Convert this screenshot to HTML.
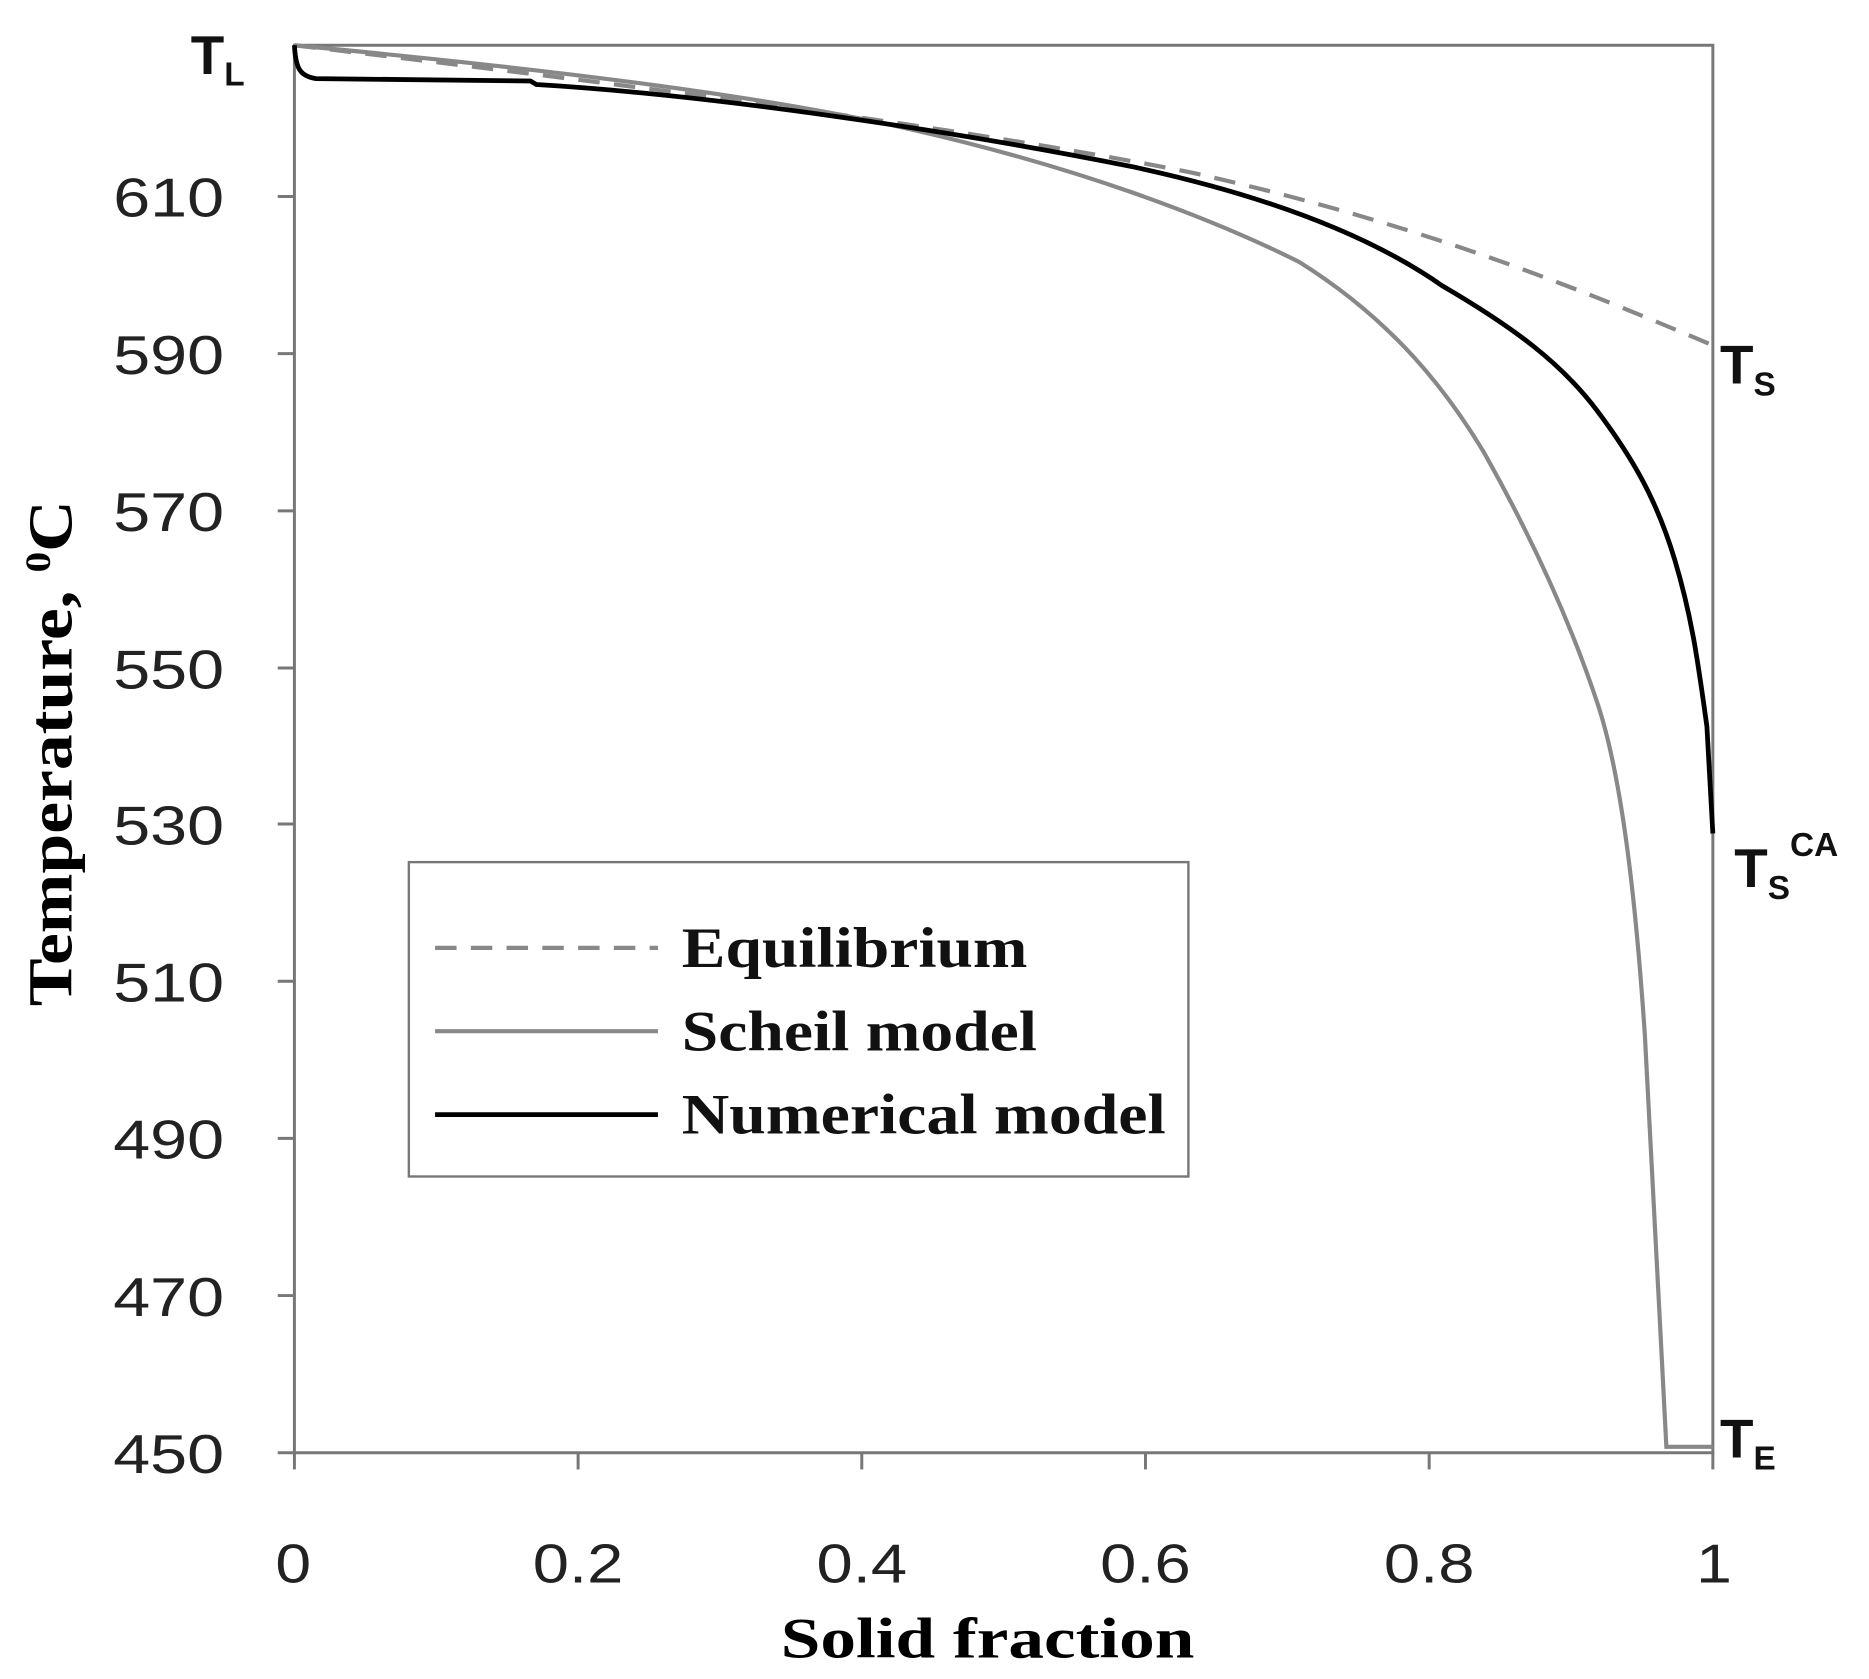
<!DOCTYPE html>
<html><head><meta charset="utf-8"><style>
html,body{margin:0;padding:0;background:#fff;}
svg{display:block;}
</style></head><body>
<svg width="1869" height="1679" viewBox="0 0 1568 1410" preserveAspectRatio="none" xmlns="http://www.w3.org/2000/svg">
<rect x="0" y="0" width="1568" height="1410" fill="#fff"/>
<rect x="247" y="38" width="1190" height="1182" fill="none" stroke="#777" stroke-width="2.5"/>
<g stroke="#777" stroke-width="2.5">
<line x1="247" y1="1220" x2="247" y2="1234"/><line x1="485" y1="1220" x2="485" y2="1234"/>
<line x1="723" y1="1220" x2="723" y2="1234"/><line x1="961" y1="1220" x2="961" y2="1234"/>
<line x1="1199" y1="1220" x2="1199" y2="1234"/><line x1="1437" y1="1220" x2="1437" y2="1234"/>
<line x1="233" y1="165" x2="247" y2="165"/><line x1="233" y1="297" x2="247" y2="297"/>
<line x1="233" y1="429" x2="247" y2="429"/><line x1="233" y1="561" x2="247" y2="561"/>
<line x1="233" y1="692" x2="247" y2="692"/><line x1="233" y1="824" x2="247" y2="824"/>
<line x1="233" y1="956" x2="247" y2="956"/><line x1="233" y1="1088" x2="247" y2="1088"/>
<line x1="233" y1="1220" x2="247" y2="1220"/>
</g>
<g font-family="Liberation Sans, sans-serif" font-size="46" fill="#222" lengthAdjust="spacingAndGlyphs">
<text x="95" y="182" textLength="93" lengthAdjust="spacingAndGlyphs">610</text>
<text x="95" y="314" textLength="93" lengthAdjust="spacingAndGlyphs">590</text>
<text x="95" y="446" textLength="93" lengthAdjust="spacingAndGlyphs">570</text>
<text x="95" y="578" textLength="93" lengthAdjust="spacingAndGlyphs">550</text>
<text x="95" y="709" textLength="93" lengthAdjust="spacingAndGlyphs">530</text>
<text x="95" y="841" textLength="93" lengthAdjust="spacingAndGlyphs">510</text>
<text x="95" y="973" textLength="93" lengthAdjust="spacingAndGlyphs">490</text>
<text x="95" y="1105" textLength="93" lengthAdjust="spacingAndGlyphs">470</text>
<text x="95" y="1237" textLength="93" lengthAdjust="spacingAndGlyphs">450</text>
<text x="231" y="1329" textLength="30" lengthAdjust="spacingAndGlyphs">0</text>
<text x="447" y="1329" textLength="76" lengthAdjust="spacingAndGlyphs">0.2</text>
<text x="685" y="1329" textLength="76" lengthAdjust="spacingAndGlyphs">0.4</text>
<text x="923" y="1329" textLength="76" lengthAdjust="spacingAndGlyphs">0.6</text>
<text x="1161" y="1329" textLength="76" lengthAdjust="spacingAndGlyphs">0.8</text>
<text x="1423" y="1329" textLength="30" lengthAdjust="spacingAndGlyphs">1</text>
</g>
<text x="655" y="1392" font-family="Liberation Serif, serif" font-weight="bold" font-size="48" textLength="347" lengthAdjust="spacingAndGlyphs">Solid fraction</text>
<text transform="translate(60,845) rotate(-90)" font-family="Liberation Serif, serif" font-weight="bold" font-size="52" textLength="425" lengthAdjust="spacingAndGlyphs">Temperature, <tspan font-size="30" dy="-18">0</tspan><tspan dy="18">C</tspan></text>
<g font-family="Liberation Sans, sans-serif" font-weight="bold" fill="#111">
<text x="160" y="62" font-size="46">T<tspan font-size="28" dy="10">L</tspan></text>
<text x="1443" y="322" font-size="46">T<tspan font-size="28" dy="10">S</tspan></text>
<text x="1455" y="745" font-size="46">T<tspan font-size="28" dy="10">S</tspan><tspan font-size="28" dy="-36">CA</tspan></text>
<text x="1443" y="1224" font-size="46">T<tspan font-size="28" dy="10">E</tspan></text>
</g>
<path d="M247,38 C500,68 800,105 1000,145 C1200,190 1330,245 1437,290" fill="none" stroke="#888" stroke-width="3.5" stroke-dasharray="18,12"/>
<path d="M247,38 C480,60 650,82 770,110 C900,140 1010,180 1090,220 C1170,270 1215,330 1245,380 C1290,460 1320,530 1340,590 C1360,650 1372,750 1380,870 C1386,980 1392,1100 1398,1215 L1437,1215" fill="none" stroke="#888" stroke-width="3.5"/>
<path d="M247,38 C248,58 252,64 265,66 L445,68 L450,71 C600,80 800,110 950,140 C1080,168 1160,205 1210,240 C1270,275 1310,305 1340,345 C1370,385 1390,420 1405,470 C1420,520 1425,560 1432,610 L1437,700" fill="none" stroke="#000" stroke-width="4"/>
<rect x="343" y="724" width="654" height="264" fill="#fff" stroke="#777" stroke-width="2"/>
<line x1="365" y1="796" x2="552" y2="796" stroke="#888" stroke-width="3.5" stroke-dasharray="18,12"/>
<line x1="365" y1="866" x2="552" y2="866" stroke="#888" stroke-width="3.5"/>
<line x1="365" y1="936" x2="552" y2="936" stroke="#000" stroke-width="4"/>
<g font-family="Liberation Serif, serif" font-weight="bold" font-size="48" fill="#111">
<text x="572" y="812" textLength="290" lengthAdjust="spacingAndGlyphs">Equilibrium</text>
<text x="572" y="882" textLength="298" lengthAdjust="spacingAndGlyphs">Scheil model</text>
<text x="572" y="952" textLength="406" lengthAdjust="spacingAndGlyphs">Numerical model</text>
</g>
</svg>
</body></html>
